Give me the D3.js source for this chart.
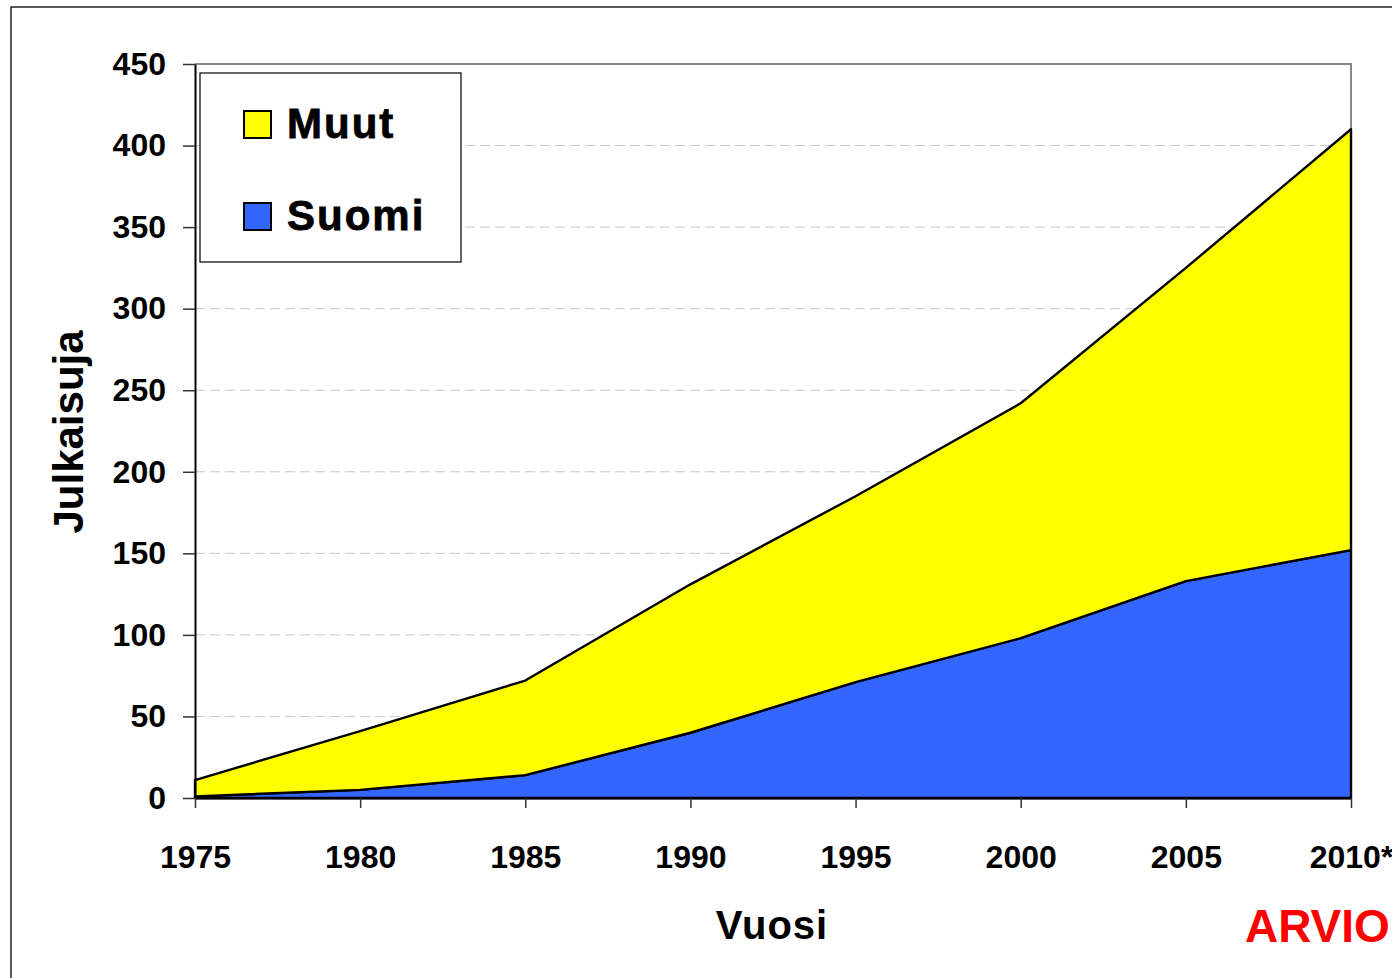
<!DOCTYPE html>
<html>
<head>
<meta charset="utf-8">
<script src="https://cdn.jsdelivr.net/npm/d3@7"></script>
<style>
  body { margin: 0; background: #fff; }
  svg { display: block; font-family: "Liberation Sans", Arial, sans-serif; font-weight: bold; }
</style>
</head>
<body>
<div id="chart"></div>
<script>
// chart data
const years = ['1975', '1980', '1985', '1990', '1995', '2000', '2005', '2010*'];
const suomi = [1, 5, 14, 40, 71, 98, 133, 152];
const muut = [10, 36, 58, 91, 114, 144, 192, 258];
const yTicks = [0, 50, 100, 150, 200, 250, 300, 350, 400, 450];
const seriesNames = ['Suomi', 'Muut'];
const colors = { Suomi: '#3366ff', Muut: '#ffff00' };

const width = 1392, height = 978;
const plotLeft = 195, plotRight = 1351, plotTop = 64, plotBottom = 798;

const svg = d3.select('#chart').append('svg')
    .attr('width', width)
    .attr('height', height);

// outer frame
svg.append('rect')
    .attr('x', 11).attr('y', 7)
    .attr('width', 1400).attr('height', 1000)
    .attr('fill', '#fff')
    .attr('stroke', '#222')
    .attr('stroke-width', 1.5);

const x = d3.scalePoint().domain(years).range([plotLeft, plotRight]);
const y = d3.scaleLinear().domain([0, 450]).range([plotBottom, plotTop]);

// build rows for the stack
const rows = years.map((yr, i) => ({ year: yr, Suomi: suomi[i], Muut: muut[i] }));
const stacked = d3.stack().keys(seriesNames)(rows);

// grid lines
svg.append('g')
    .selectAll('line')
    .data(yTicks.filter(d => d > 0 && d < 450))
    .join('line')
    .attr('x1', plotLeft).attr('x2', plotRight)
    .attr('y1', d => y(d)).attr('y2', d => y(d))
    .attr('stroke', '#c8c8c8')
    .attr('stroke-width', 1)
    .attr('stroke-dasharray', '10,5');

// plot frame (top and right sides grey)
svg.append('path')
    .attr('d', `M${plotLeft},${plotTop}H${plotRight}V${plotBottom}`)
    .attr('fill', 'none')
    .attr('stroke', '#888')
    .attr('stroke-width', 2);

const area = d3.area()
    .x(d => x(d.data.year))
    .y0(d => y(d[0]))
    .y1(d => y(d[1]));

svg.append('g')
    .selectAll('path')
    .data(stacked)
    .join('path')
    .attr('d', area)
    .attr('fill', d => colors[d.key])
    .attr('stroke', '#000')
    .attr('stroke-width', 2.4)
    .attr('stroke-linejoin', 'round');

// y axis
const yAxis = svg.append('g')
    .attr('transform', `translate(${plotLeft},0)`)
    .call(d3.axisLeft(y).tickValues(yTicks).tickSize(12).tickSizeOuter(0).tickPadding(17));
yAxis.select('.domain').attr('stroke', '#000').attr('stroke-width', 2);
yAxis.selectAll('.tick line').attr('stroke', '#333').attr('stroke-width', 1.5);
yAxis.selectAll('text')
    .attr('font-size', 32)
    .attr('font-weight', 'bold')
    .attr('font-family', '"Liberation Sans", Arial, sans-serif')
    .attr('fill', '#000');

// x axis
const xAxis = svg.append('g')
    .attr('transform', `translate(0,${plotBottom})`)
    .call(d3.axisBottom(x).tickSize(10).tickSizeOuter(0).tickPadding(37));
xAxis.select('.domain').attr('stroke', '#000').attr('stroke-width', 2);
xAxis.selectAll('.tick line').attr('stroke', '#333').attr('stroke-width', 1.5);
xAxis.selectAll('text')
    .attr('font-size', 32)
    .attr('font-weight', 'bold')
    .attr('font-family', '"Liberation Sans", Arial, sans-serif')
    .attr('fill', '#000');

// axis titles
svg.append('text')
    .attr('x', 772).attr('y', 939)
    .attr('text-anchor', 'middle')
    .attr('font-size', 40)
    .attr('letter-spacing', 1)
    .text('Vuosi');

svg.append('text')
    .attr('transform', 'translate(83,432) rotate(-90)')
    .attr('text-anchor', 'middle')
    .attr('font-size', 42)
    .text('Julkaisuja');

svg.append('text')
    .attr('x', 1245).attr('y', 942)
    .attr('font-size', 46)
    .attr('fill', '#ff0000')
    .text('ARVIO');

// legend
const legend = svg.append('g');
legend.append('rect')
    .attr('x', 200).attr('y', 73)
    .attr('width', 261).attr('height', 189)
    .attr('fill', '#fff')
    .attr('stroke', '#000')
    .attr('stroke-width', 1.2);

const legendItems = legend.selectAll('g.item')
    .data(['Muut', 'Suomi'])
    .join('g')
    .attr('class', 'item')
    .attr('transform', (d, i) => `translate(244,${111 + i * 92})`);

legendItems.append('rect')
    .attr('width', 27).attr('height', 27)
    .attr('fill', d => colors[d])
    .attr('stroke', '#000')
    .attr('stroke-width', 2);

legendItems.append('text')
    .attr('x', 43).attr('y', 27)
    .attr('font-size', 42)
    .attr('letter-spacing', 2)
    .attr('stroke', '#000')
    .attr('stroke-width', 0.8)
    .text(d => d);
</script>
</body>
</html>
